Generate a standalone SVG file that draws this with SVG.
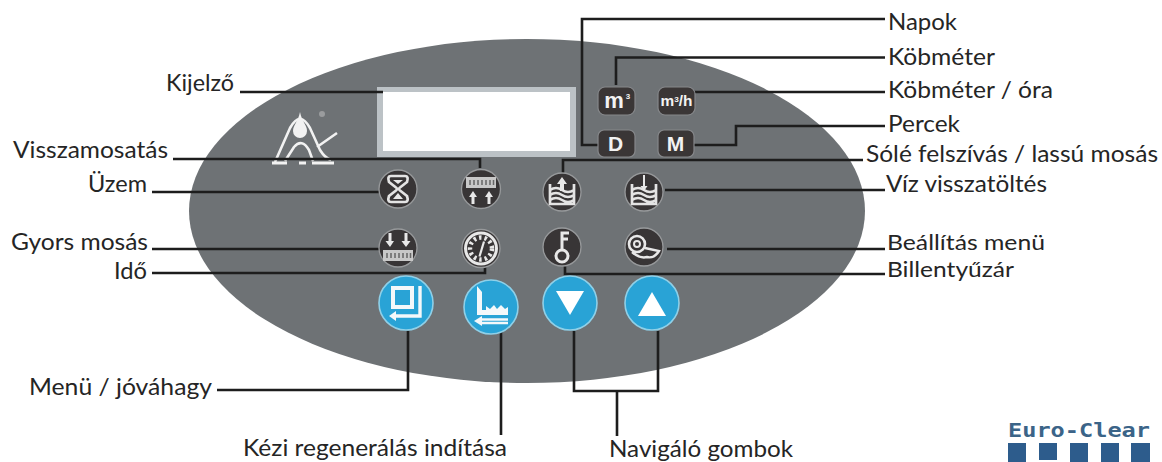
<svg xmlns="http://www.w3.org/2000/svg" width="1162" height="462" viewBox="0 0 1162 462">
<style>
text{font-family:Lato,"Noto Sans","Liberation Sans",sans-serif;font-size:23px;fill:#252525}
.c{fill:none;stroke:#1d1d1d;stroke-width:2.6}
.d{fill:#383536;stroke:#97999b;stroke-width:1.3}
.b{fill:#29a3d6;stroke:#8fd0e8;stroke-width:1.6}
.k{fill:#3a3636;stroke:#85878a;stroke-width:1.2}
.w{fill:none;stroke:#e4e4e4;stroke-width:2.700}
.f{fill:#e8e8e8}
.t{fill:#f2f2f2;font-family:"Liberation Sans",sans-serif;font-weight:bold;text-anchor:middle}
.e{fill:#2d5c8c}
</style>
<rect width="1162" height="462" fill="#fff"/>
<g id="panel">
<ellipse cx="527" cy="211" rx="338" ry="172" fill="#6e7275"/>
</g>
<g id="logo">
<path d="M275 162L290 128Q300 110 310 128L320 150Q325 158 331 160M317 147L337 133M285 161L294 147Q302 138 309 150L313 161" fill="none" stroke="#f2f2f2" stroke-width="2.600"/>
<path d="M272 163H287M299 163H306M312 163H334" fill="none" stroke="#f2f2f2" stroke-width="3"/>
<path d="M300 112C302 122 307 125 307 131A7 7 0 0 1 293 131C293 125 298 122 300 112Z" fill="#f2f2f2"/>
<circle cx="322" cy="114" r="3" fill="#9a9c9e"/>
</g>
<g id="display">
<rect x="377" y="87" width="199" height="70" fill="#bcc2c6"/>
<rect x="383" y="92" width="187" height="59" fill="#fff"/>
</g>
<g id="connectors">
<path class="c" d="M240 92H383"/>
<path class="c" d="M173 159H480V168"/>
<path class="c" d="M152 192H380"/>
<path class="c" d="M152 249H380"/>
<path class="c" d="M152 273H485V266"/>
<path class="c" d="M217 390H408V331"/>
<path class="c" d="M501 332V435"/>
<path class="c" d="M574 331V391H658V331M617 391V436"/>
<path class="c" d="M885 19H582V145H598"/>
<path class="c" d="M885 57.500H616V85"/>
<path class="c" d="M885 92H693"/>
<path class="c" d="M885 126H736V145H692"/>
<path class="c" d="M863 160H563V176"/>
<path class="c" d="M885 190H665"/>
<path class="c" d="M885 249H667"/>
<path class="c" d="M885 274H565V265"/>
</g>
<g id="key-m3"><rect class="k" x="598" y="87" width="37" height="28" rx="7"/><text class="t" x="614" y="108" style="font-size:22px">m</text><text class="t" x="628" y="99" style="font-size:8px">3</text></g>
<g id="key-m3h"><rect class="k" x="658" y="87" width="37" height="28" rx="7"/><text class="t" x="676.500" y="106" style="font-size:15px" textLength="32" lengthAdjust="spacingAndGlyphs">m<tspan dy="-4" style="font-size:8px">3</tspan><tspan dy="4">/h</tspan></text></g>
<g id="key-d"><rect class="k" x="598" y="130" width="37" height="27" rx="6"/><text class="t" x="615.500" y="151" style="font-size:21px">D</text></g>
<g id="key-m"><rect class="k" x="658" y="130" width="36" height="27" rx="6"/><text class="t" x="675.500" y="151" style="font-size:21px">M</text></g>
<g id="btn-uzem" transform="translate(398 189)"><circle class="d" r="19"/><path class="w" d="M-7 -13H7Q11 -13 9 -7L2 -1.500Q0 0 2 1.500L9 7Q11 13 7 13H-7Q-11 13 -9 7L-2 1.500Q0 0 -2 -1.500L-9 -7Q-11 -13 -7 -13Z"/><path class="f" d="M-5 10L0 4L5 10ZM-5 -9H5L0 -5Z"/></g>
<g id="btn-visszamosatas" transform="translate(481 189)"><circle class="d" r="19.500"/><rect x="-15" y="-12" width="30" height="11" fill="#c8c8c8"/><path d="M-11 -9V-4M-7 -9V-4M-3 -9V-4M1 -9V-4M5 -9V-4M9 -9V-4M12.500 -9V-4" stroke="#666" stroke-width="1.500"/><path class="f" d="M-8 2L-12 8H-9.500V15H-6.500V8H-4ZM8 2L4 8H6.500V15H9.500V8H12Z"/></g>
<g id="btn-sole" transform="translate(562 192)"><circle class="d" r="19"/><path class="w" d="M-12 -8V12H12V-8M-12 -2Q-6 -6 0 -2T12 -2M-12 3Q-6 -1 0 3T12 3M-12 8Q-6 4 0 8T12 8"/><path class="f" d="M0 -15L-5 -8H-2V-1H2V-8H5Z"/></g>
<g id="btn-viz" transform="translate(644 192)"><circle class="d" r="19"/><path class="w" d="M-12 -8V12H12V-8M-12 -2Q-6 -6 0 -2T12 -2M-12 3Q-6 -1 0 3T12 3M-12 8Q-6 4 0 8T12 8"/><path class="f" d="M-1 -17H1V-6L3.500 -6L0 -1L-3.500 -6L-1 -6Z"/></g>
<g id="btn-gyors" transform="translate(398 248)"><circle class="d" r="19"/><rect x="-15" y="2" width="30" height="11" fill="#c8c8c8"/><path d="M-11 5V10M-7 5V10M-3 5V10M1 5V10M5 5V10M9 5V10M12.500 5V10" stroke="#666" stroke-width="1.500"/><path class="f" d="M-9.500 -15V-7H-12.500L-8 -1L-4 -7H-6.500V-15ZM6.500 -15V-7H3.500L8 -1L12.500 -7H9.500V-15Z"/></g>
<g id="btn-ido" transform="translate(481 248.500)"><circle class="d" r="19"/><circle r="15.500" fill="none" stroke="#e8e8e8" stroke-width="3"/><circle r="11" fill="none" stroke="#e8e8e8" stroke-width="4.500" stroke-dasharray="2.500 3"/><path d="M3 -7L-1.500 8" stroke="#e8e8e8" stroke-width="2.200"/></g>
<g id="btn-kulcs" transform="translate(562 247)"><circle class="d" r="19"/><path fill="none" stroke="#e8e8e8" stroke-width="3" d="M0 3V-14H7M0 -8H6"/><circle cy="9" r="6" fill="none" stroke="#e8e8e8" stroke-width="3"/></g>
<g id="btn-beallitas" transform="translate(644 247)"><circle class="d" r="19"/><circle cx="-7" cy="-3" r="8" fill="none" stroke="#e8e8e8" stroke-width="2.600"/><circle cx="-7" cy="-3" r="3" fill="none" stroke="#e8e8e8" stroke-width="2"/><path fill="none" stroke="#e8e8e8" stroke-width="2.400" d="M1 1L15 4Q10 12 3 10Q-4 12 -12 5"/></g>
<g id="btn-menu" transform="translate(406 303)"><circle class="b" r="27"/><rect x="-13" y="-15" width="19" height="19" fill="none" stroke="#f4f8fa" stroke-width="4"/><path fill="none" stroke="#f4f8fa" stroke-width="3.400" d="M14 -17V13H-12"/><path fill="#f4f8fa" d="M-17 13L-10 8V18Z"/></g>
<g id="btn-kezi" transform="translate(491 307)"><circle class="b" r="27"/><path fill="#f4f8fa" d="M-14 -21L-9 -15V3H-5V-1L-1 2L3 -2L6 2L10 -2L14 2L17 0V8H-14Z"/><path fill="none" stroke="#f4f8fa" stroke-width="2.500" d="M-10 16H17M-10 12.500H17"/><path fill="#f4f8fa" d="M-17 14L-9 9V19Z"/></g>
<g id="btn-le" transform="translate(570 303)"><circle class="b" r="27"/><path fill="#fff" d="M-14 -12H14L0 12Z"/></g>
<g id="btn-fel" transform="translate(652 303)"><circle class="b" r="27"/><path fill="#fff" d="M-14 13H14L0 -11Z"/></g>
<g id="labels">
<text x="166" y="91" textLength="68" lengthAdjust="spacingAndGlyphs">Kijelző</text>
<text x="13" y="158" textLength="155" lengthAdjust="spacingAndGlyphs">Visszamosatás</text>
<text x="88" y="192" textLength="59" lengthAdjust="spacingAndGlyphs">Üzem</text>
<text x="11" y="250" textLength="137" lengthAdjust="spacingAndGlyphs">Gyors mosás</text>
<text x="114" y="279" textLength="33" lengthAdjust="spacingAndGlyphs">Idő</text>
<text x="29" y="395" textLength="183" lengthAdjust="spacingAndGlyphs">Menü / jóváhagy</text>
<text x="243" y="456" textLength="264" lengthAdjust="spacingAndGlyphs">Kézi regenerálás indítása</text>
<text x="609" y="457" textLength="184" lengthAdjust="spacingAndGlyphs">Navigáló gombok</text>
<text x="888" y="30" textLength="69" lengthAdjust="spacingAndGlyphs">Napok</text>
<text x="888" y="65" textLength="107" lengthAdjust="spacingAndGlyphs">Köbméter</text>
<text x="888" y="98" textLength="165" lengthAdjust="spacingAndGlyphs">Köbméter / óra</text>
<text x="888" y="132" textLength="72" lengthAdjust="spacingAndGlyphs">Percek</text>
<text x="866" y="162" textLength="292" lengthAdjust="spacingAndGlyphs">Sólé felszívás / lassú mosás</text>
<text x="886" y="192" textLength="161" lengthAdjust="spacingAndGlyphs">Víz visszatöltés</text>
<text x="887" y="250" textLength="158" lengthAdjust="spacingAndGlyphs" style="font-size:22px">Beállítás menü</text>
<text x="887" y="277" textLength="127" lengthAdjust="spacingAndGlyphs" style="font-size:22px">Billentyűzár</text>
</g>
<g id="brand">
<text x="1008" y="437" textLength="142" lengthAdjust="spacingAndGlyphs" style="font-family:'DejaVu Sans Mono',monospace;font-size:20px;font-weight:bold;fill:#3b6488">Euro-Clear</text>
<rect class="e" x="1008" y="443" width="18" height="19"/>
<rect class="e" x="1039" y="443" width="18" height="17"/>
<rect class="e" x="1070" y="443" width="18" height="19"/>
<rect class="e" x="1101" y="443" width="18" height="19"/>
<rect class="e" x="1131" y="443" width="19" height="19"/>
</g>
</svg>
